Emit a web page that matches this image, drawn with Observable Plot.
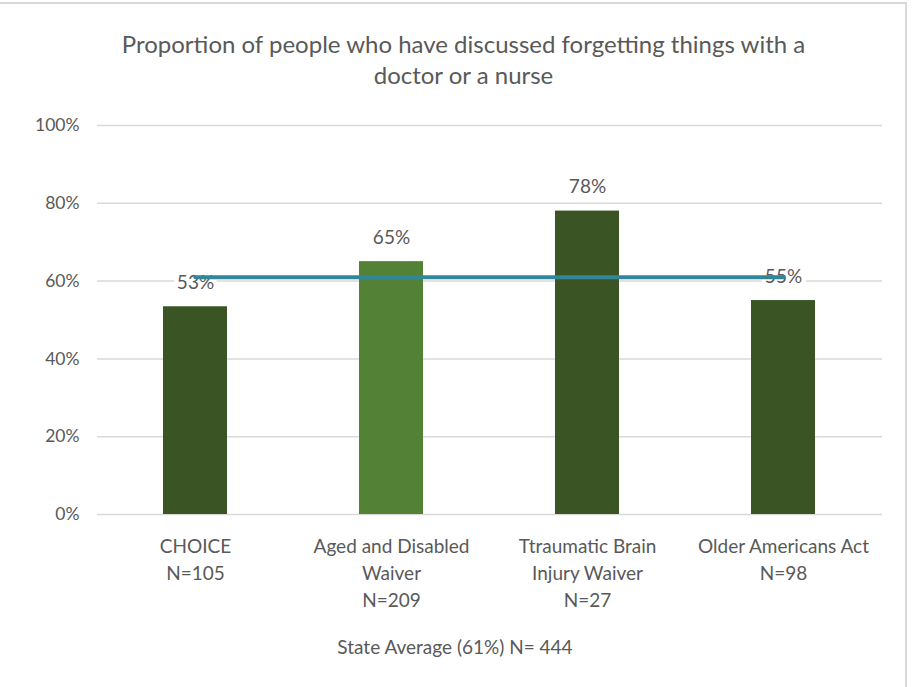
<!DOCTYPE html>
<html>
<head>
<meta charset="utf-8">
<script src="https://cdn.jsdelivr.net/npm/d3@7"></script>
<script src="https://cdn.jsdelivr.net/npm/@observablehq/plot@0.6"></script>
<style>
  body { margin: 0; background: #fff; }
  #wrap { position: relative; width: 915px; height: 687px; overflow: hidden; font-family: Lato, "Open Sans", sans-serif; color: #595959; }
  #frame { position: absolute; left: -4px; top: 2px; width: 911px; height: 720px; border: 2px solid #d9d9d9; box-sizing: border-box; }
  #title { position: absolute; top: 28px; left: 0; width: 927px; text-align: center; font-size: 24px; line-height: 31px; }
  #chart { position: absolute; left: 0; top: 0; }
  #caption { position: absolute; top: 635px; left: 0; width: 910px; text-align: center; font-size: 19px; }
</style>
</head>
<body>
<div id="wrap">
  <div id="frame"></div>
  <div id="title">Proportion of people who have discussed forgetting things with a<br>doctor or a nurse</div>
  <div id="chart"></div>
  <div id="caption">State Average (61%) N= 444</div>
</div>
<script>
const categories = ["CHOICE", "Aged and Disabled Waiver", "Ttraumatic Brain Injury Waiver", "Older Americans Act"];
const tickLabels = ["CHOICE\nN=105", "Aged and Disabled\nWaiver\nN=209", "Ttraumatic Brain\nInjury Waiver\nN=27", "Older Americans Act\nN=98"];
const values = [53.4, 65, 78, 55];
const stateAverage = 61;
const yTicks = [0, 20, 40, 60, 80, 100];

const barColors = ["#3a5424", "#538135", "#3a5424", "#3a5424"];
const data = categories.map((c, i) => ({category: c, value: values[i], color: barColors[i]}));

const chart = Plot.plot({
  width: 915,
  height: 687,
  marginLeft: 97,
  marginRight: 33,
  marginTop: 125,
  marginBottom: 173,
  style: {fontFamily: "Lato, 'Open Sans', sans-serif", fontSize: "17px", color: "#595959", background: "transparent"},
  x: {domain: categories, paddingInner: 0.673, paddingOuter: 0.3365, label: null},
  y: {domain: [0, 100], label: null},
  color: {type: "identity"},
  marks: [
    Plot.gridY(yTicks, {stroke: "#d9d9d9", strokeOpacity: 1, strokeWidth: 1.5}),
    Plot.axisY(yTicks, {tickSize: 0, tickPadding: 18, tickFormat: d => d + "%", fontSize: 17.5, fill: "#595959"}),
    Plot.axisX(categories, {tickSize: 0, tickPadding: 19, tickFormat: d => tickLabels[categories.indexOf(d)], lineHeight: 1.42, fontSize: 19, fill: "#595959"}),
    Plot.barY(data, {x: "category", y: "value", fill: "color"}),
    Plot.text(data, {x: "category", y: "value", text: d => Math.round(d.value) + "%", dy: -24, fontSize: 19, fill: "#595959", stroke: "white", strokeWidth: 9}),
    Plot.lineY(data, {x: "category", y: () => stateAverage, stroke: "#31869a", strokeWidth: 4})
  ]
});
document.getElementById("chart").appendChild(chart);
</script>
</body>
</html>
